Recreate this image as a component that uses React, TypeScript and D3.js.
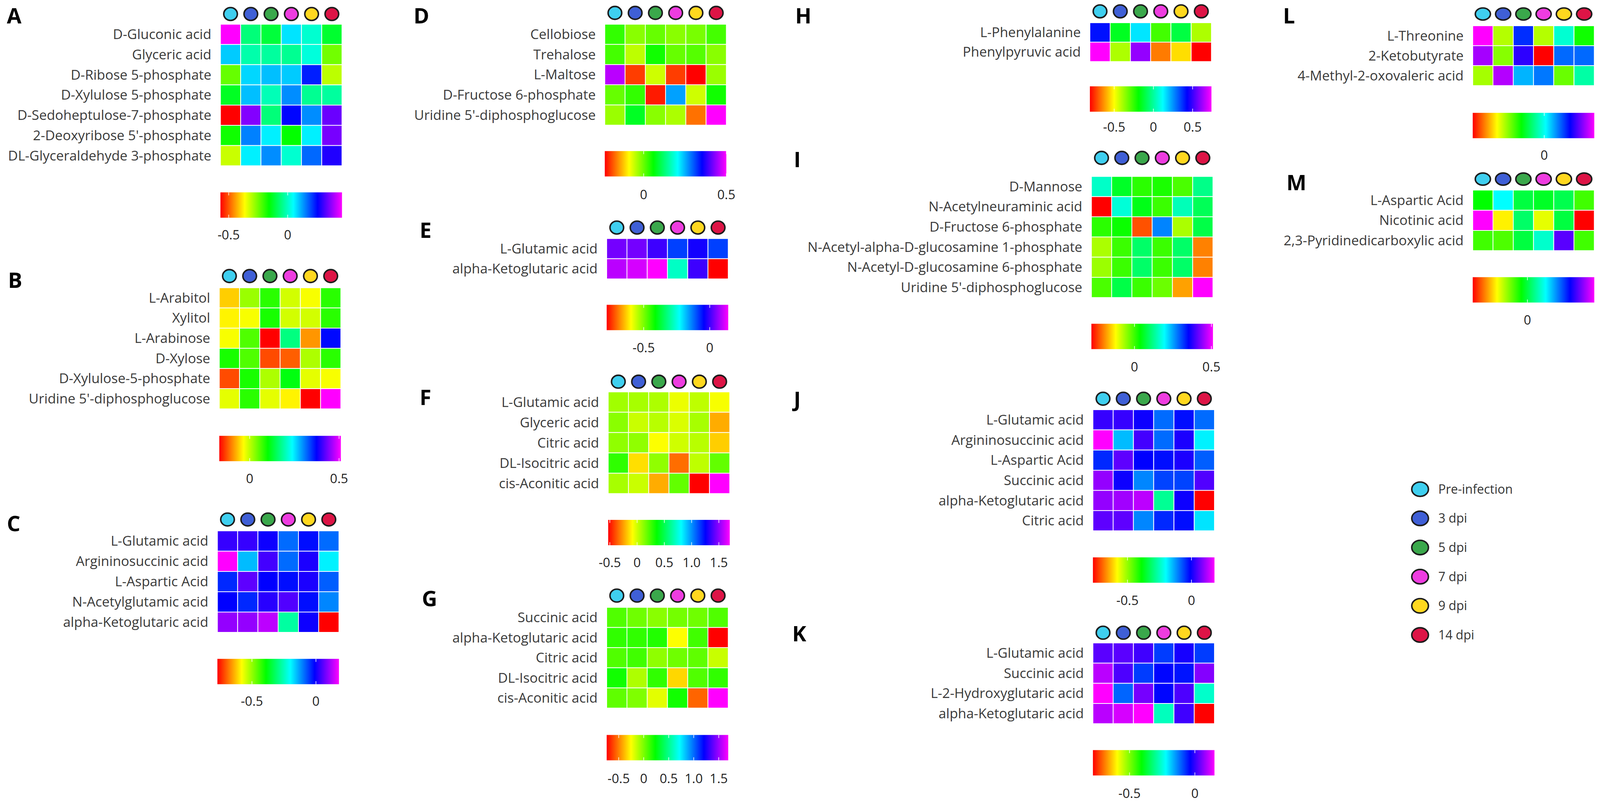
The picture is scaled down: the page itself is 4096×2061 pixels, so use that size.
import React from "react";
import * as d3 from "d3";

// sampling groups (columns of every heatmap)
const groups = ["Pre-infection", "3 dpi", "5 dpi", "7 dpi", "9 dpi", "14 dpi"];
const groupColors = ["#3fcfef", "#3f5fd6", "#3aa84b", "#ee3ce0", "#ffd81f", "#dd1446"];

// A
const rowsA = ["D-Gluconic acid", "Glyceric acid", "D-Ribose 5-phosphate", "D-Xylulose 5-phosphate", "D-Sedoheptulose-7-phosphate", "2-Deoxyribose 5'-phosphate", "DL-Glyceraldehyde 3-phosphate"];
const valuesA = [
  [0.46, -0.06, -0.11, 0.07, 0.01, -0.12],
  [0.09, -0.02, -0.03, -0.04, 0.02, -0.25],
  [-0.24, 0.08, 0.1, 0.09, 0.23, -0.31],
  [-0.13, 0.1, -0.01, 0.14, -0.04, -0.03],
  [-0.57, 0.36, -0.06, 0.25, 0.14, 0.34],
  [-0.17, 0.15, 0.06, -0.16, 0.06, 0.35],
  [-0.32, 0.06, 0.14, 0.01, 0.17, 0.28],
];
const domainA = [-0.57, 0.46];
const ticksA = [-0.5, 0];

// B
const rowsB = ["L-Arabitol", "Xylitol", "L-Arabinose", "D-Xylose", "D-Xylulose-5-phosphate", "Uridine 5'-diphosphoglucose"];
const valuesB = [
  [-0.06, 0.02, 0.08, -0.01, -0.03, 0.08],
  [-0.04, -0.03, 0.09, -0.01, -0.01, 0.08],
  [-0.03, 0.06, -0.17, 0.17, -0.09, 0.37],
  [0.09, 0.06, -0.13, -0.12, 0.01, 0.08],
  [-0.13, 0.09, 0.01, 0.11, -0.02, -0.03],
  [-0.02, 0.08, -0.02, -0.04, -0.17, 0.51],
];
const domainB = [-0.17, 0.51];
const ticksB = [0, 0.5];

// C
const rowsC = ["L-Glutamic acid", "Argininosuccinic acid", "L-Aspartic Acid", "N-Acetylglutamic acid", "alpha-Ketoglutaric acid"];
const valuesC = [
  [0.03, 0.03, 0.0, -0.09, -0.02, -0.09],
  [0.18, -0.15, 0.04, -0.09, 0.01, -0.19],
  [-0.04, 0.06, -0.01, -0.02, 0.01, -0.08],
  [-0.01, -0.04, 0.02, 0.05, -0.02, -0.11],
  [0.1, 0.1, 0.13, -0.27, 0.0, -0.77],
];
const domainC = [-0.77, 0.18];
const ticksC = [-0.5, 0];

// D
const rowsD = ["Cellobiose", "Trehalose", "L-Maltose", "D-Fructose 6-phosphate", "Uridine 5'-diphosphoglucose"];
const valuesD = [
  [0.03, -0.02, 0.0, -0.02, -0.01, 0.02],
  [0.02, -0.05, 0.05, 0.0, 0.01, -0.02],
  [0.46, -0.2, -0.06, -0.2, -0.24, -0.03],
  [0.0, 0.03, -0.22, 0.26, -0.06, 0.05],
  [-0.03, 0.08, -0.02, -0.04, -0.17, 0.5],
];
const domainD = [-0.235, 0.5];
const ticksD = [0, 0.5];

// E
const rowsE = ["L-Glutamic acid", "alpha-Ketoglutaric acid"];
const valuesE = [
  [0.04, 0.04, 0.0, -0.09, -0.03, -0.09],
  [0.09, 0.11, 0.14, -0.27, 0.0, -0.78],
];
const domainE = [-0.78, 0.14];
const ticksE = [-0.5, 0];

// F
const rowsF = ["L-Glutamic acid", "Glyceric acid", "Citric acid", "DL-Isocitric acid", "cis-Aconitic acid"];
const valuesF = [
  [0.08, 0.07, 0.06, -0.05, 0.03, -0.07],
  [0.12, 0.01, 0.04, -0.02, 0.07, -0.23],
  [0.11, 0.11, -0.08, 0.0, 0.04, -0.17],
  [0.28, -0.14, 0.11, -0.34, 0.03, 0.19],
  [0.07, 0.01, -0.23, 0.19, -0.53, 1.7],
];
const domainF = [-0.53, 1.7];
const ticksF = [-0.5, 0, 0.5, 1, 1.5];

// G
const rowsG = ["Succinic acid", "alpha-Ketoglutaric acid", "Citric acid", "DL-Isocitric acid", "cis-Aconitic acid"];
const valuesG = [
  [0.08, 0.02, -0.03, 0.01, 0.02, 0.08],
  [0.14, 0.14, 0.17, -0.25, 0.11, -0.74],
  [0.08, 0.11, -0.04, 0.02, 0.05, -0.15],
  [0.2, -0.1, 0.14, -0.33, 0.08, 0.14],
  [0.05, -0.01, -0.2, 0.2, -0.55, 1.69],
];
const domainG = [-0.74, 1.69];
const ticksG = [-0.5, 0, 0.5, 1, 1.5];

// H
const rowsH = ["L-Phenylalanine", "Phenylpyruvic acid"];
const valuesH = [
  [0.41, -0.15, 0.15, -0.27, -0.11, -0.4],
  [0.74, -0.4, 0.61, -0.66, -0.54, -0.81],
];
const domainH = [-0.81, 0.74];
const ticksH = [-0.5, 0, 0.5];

// I
const rowsI = ["D-Mannose", "N-Acetylneuraminic acid", "D-Fructose 6-phosphate", "N-Acetyl-alpha-D-glucosamine 1-phosphate", "N-Acetyl-D-glucosamine 6-phosphate", "Uridine 5'-diphosphoglucose"];
const valuesI = [
  [0.16, 0.06, 0.01, 0.02, -0.01, 0.12],
  [-0.28, 0.17, 0.05, 0.0, 0.15, 0.09],
  [0.01, 0.03, -0.23, 0.27, -0.07, 0.08],
  [-0.07, 0.0, 0.1, 0.0, 0.1, -0.2],
  [-0.06, 0.0, 0.1, 0.0, 0.1, -0.2],
  [-0.01, 0.08, 0.0, -0.03, -0.18, 0.51],
];
const domainI = [-0.28, 0.51];
const ticksI = [0, 0.5];

// J
const rowsJ = ["L-Glutamic acid", "Argininosuccinic acid", "L-Aspartic Acid", "Succinic acid", "alpha-Ketoglutaric acid", "Citric acid"];
const valuesJ = [
  [0.03, 0.03, 0.0, -0.09, -0.02, -0.09],
  [0.18, -0.15, 0.04, -0.09, 0.01, -0.19],
  [-0.04, 0.06, -0.01, -0.02, 0.01, -0.08],
  [0.1, 0.0, -0.11, -0.06, -0.06, 0.05],
  [0.1, 0.11, 0.13, -0.28, 0.0, -0.77],
  [0.06, 0.06, -0.11, -0.04, -0.02, -0.18],
];
const domainJ = [-0.77, 0.18];
const ticksJ = [-0.5, 0];

// K
const rowsK = ["L-Glutamic acid", "Succinic acid", "L-2-Hydroxyglutaric acid", "alpha-Ketoglutaric acid"];
const valuesK = [
  [0.03, 0.03, 0.01, -0.08, -0.02, -0.08],
  [0.1, 0.02, -0.08, -0.04, -0.05, 0.06],
  [0.15, -0.11, 0.05, -0.04, 0.02, -0.26],
  [0.1, 0.12, 0.15, -0.27, 0.01, -0.78],
];
const domainK = [-0.78, 0.15];
const ticksK = [-0.5, 0];

// L
const rowsL = ["L-Threonine", "2-Ketobutyrate", "4-Methyl-2-oxovaleric acid"];
const valuesL = [
  [0.35, -0.28, 0.15, -0.28, -0.02, -0.17],
  [0.29, -0.25, 0.21, -0.5, 0.11, 0.11],
  [-0.27, 0.3, 0.06, 0.1, -0.23, -0.05],
];
const domainL = [-0.5, 0.35];
const ticksL = [0];

// M
const rowsM = ["L-Aspartic Acid", "Nicotinic acid", "2,3-Pyridinedicarboxylic acid"];
const valuesM = [
  [-0.05, 0.15, 0.0, -0.02, 0.01, -0.1],
  [0.55, -0.26, 0.03, -0.23, 0.0, -0.45],
  [-0.1, -0.11, 0.0, 0.11, 0.42, -0.1],
];
const domainM = [-0.45, 0.55];
const ticksM = [0];

// layout, in reference pixels
const panels = [
  { id: "A", rows: rowsA, values: valuesA, domain: domainA, ticks: ticksA, lx: 18, ly: 62, cy: 37, hx: 582, hy: 64, ch: 53.4, cb: 508, ty: 620 },
  { id: "B", rows: rowsB, values: valuesB, domain: domainB, ticks: ticksB, lx: 21, ly: 760, cy: 729, hx: 579, hy: 760, ch: 53.3, cb: 1151, ty: 1264 },
  { id: "C", rows: rowsC, values: valuesC, domain: domainC, ticks: ticksC, lx: 18, ly: 1403, cy: 1372, hx: 574, hy: 1402, ch: 53.6, cb: 1740, ty: 1852 },
  { id: "D", rows: rowsD, values: valuesD, domain: domainD, ticks: ticksD, lx: 1092, ly: 62, cy: 34, hx: 1597, hy: 64, ch: 53.3, cb: 399, ty: 514 },
  { id: "E", rows: rowsE, values: valuesE, domain: domainE, ticks: ticksE, lx: 1108, ly: 628, cy: 601, hx: 1602, hy: 630, ch: 53.3, cb: 805, ty: 919 },
  { id: "F", rows: rowsF, values: valuesF, domain: domainF, ticks: ticksF, lx: 1108, ly: 1070, cy: 1008, hx: 1606, hy: 1035, ch: 53.7, cb: 1373, ty: 1486 },
  { id: "G", rows: rowsG, values: valuesG, domain: domainG, ticks: ticksG, lx: 1114, ly: 1601, cy: 1573, hx: 1602, hy: 1604, ch: 53.2, cb: 1941, ty: 2056 },
  { id: "H", rows: rowsH, values: valuesH, domain: domainH, ticks: ticksH, lx: 2100, ly: 62, cy: 30, hx: 2878, hy: 60, ch: 51.3, cb: 228, ty: 336 },
  { id: "I", rows: rowsI, values: valuesI, domain: domainI, ticks: ticksI, lx: 2096, ly: 442, cy: 417, hx: 2882, hy: 466, ch: 53.3, cb: 855, ty: 969 },
  { id: "J", rows: rowsJ, values: valuesJ, domain: domainJ, ticks: ticksJ, lx: 2096, ly: 1075, cy: 1053, hx: 2886, hy: 1082, ch: 53.3, cb: 1472, ty: 1586 },
  { id: "K", rows: rowsK, values: valuesK, domain: domainK, ticks: ticksK, lx: 2092, ly: 1694, cy: 1671, hx: 2886, hy: 1698, ch: 53.3, cb: 1981, ty: 2096 },
  { id: "L", rows: rowsL, values: valuesL, domain: domainL, ticks: ticksL, lx: 3388, ly: 62, cy: 37, hx: 3889, hy: 68, ch: 52.7, cb: 298, ty: 410 },
  { id: "M", rows: rowsM, values: valuesM, domain: domainM, ticks: ticksM, lx: 3397, ly: 502, cy: 473, hx: 3889, hy: 502, ch: 53.3, cb: 732, ty: 845 },
];

const W = 4225;
const H = 2126;
const HEAT_W = 321;
const CB_H = 67;
const FONT = "'Open Sans', 'Noto Sans', sans-serif";

// rainbow: red -> yellow -> green -> cyan -> blue -> magenta
const rainbow = (t: number) => d3.hsl(300 * Math.max(0, Math.min(1, t)), 1, 0.5).formatHex();
const fmt = (v: number) => (v === 0 ? "0" : v.toFixed(1));

const Panel = ({ p }: { p: any }) => {
  const x = d3.scaleBand().domain(groups).range([p.hx, p.hx + HEAT_W]);
  const y = d3
    .scaleBand()
    .domain(p.rows)
    .range([p.hy, p.hy + p.ch * p.rows.length]);
  const color = d3.scaleSequential(rainbow).domain(p.domain);
  const xc = d3.scaleLinear().domain(p.domain).range([p.hx, p.hx + HEAT_W]);
  const wide = p.id === "L" || p.id === "M";
  const gradId = `grad-${p.id}`;
  const stops = d3.range(0, 1.0001, 0.05);

  return (
    <g>
      <text x={p.lx} y={p.ly} fontFamily={FONT} fontWeight={700} fontSize={56} fill="#000">
        {p.id}
      </text>
      {groups.map((g, i) => (
        <ellipse
          key={g}
          cx={x(g)! + x.bandwidth() / 2}
          cy={p.cy}
          rx={wide ? 20 : 18}
          ry={wide ? 16 : 17}
          fill={groupColors[i]}
          stroke="#1c1c1c"
          strokeWidth={4}
        />
      ))}
      {p.rows.map((r: string, ri: number) => (
        <g key={r}>
          <text
            x={p.hx - 24}
            y={y(r)! + y.bandwidth() / 2}
            dy="0.35em"
            textAnchor="end"
            fontFamily={FONT}
            fontSize={36}
            fill="#3a3a3a"
          >
            {r}
          </text>
          {groups.map((g, gi) => (
            <rect
              key={g}
              x={x(g)!}
              y={y(r)!}
              width={x.bandwidth()}
              height={y.bandwidth()}
              fill={color(p.values[ri][gi])}
              stroke="#ffffff"
              strokeWidth={2}
            />
          ))}
        </g>
      ))}
      <defs>
        <linearGradient id={gradId} x1="0" x2="1" y1="0" y2="0">
          {stops.map((t) => (
            <stop key={t} offset={t} stopColor={rainbow(t)} />
          ))}
        </linearGradient>
      </defs>
      <rect x={p.hx} y={p.cb} width={HEAT_W} height={CB_H} fill={`url(#${gradId})`} />
      {p.ticks.map((t: number) => (
        <g key={t}>
          <line x1={xc(t)} x2={xc(t)} y1={p.cb} y2={p.cb + 8} stroke="#fff" strokeWidth={2} opacity={0.8} />
          <line x1={xc(t)} x2={xc(t)} y1={p.cb + CB_H - 8} y2={p.cb + CB_H} stroke="#fff" strokeWidth={2} opacity={0.8} />
          <text x={xc(t)} y={p.ty} dy="0.35em" textAnchor="middle" fontFamily={FONT} fontSize={34} fill="#222">
            {fmt(t)}
          </text>
        </g>
      ))}
    </g>
  );
};

const App: React.FC = () => {
  const legendY = d3.scalePoint().domain(groups).range([1292, 1677]);
  return (
    <svg
      width={4096}
      height={2061}
      viewBox={`0 0 ${W} ${H}`}
      style={{ position: "fixed", left: 0, top: 0, background: "#fff" }}
    >
      <rect x={0} y={0} width={W} height={H} fill="#fff" />
      {panels.map((p) => (
        <Panel key={p.id} p={p} />
      ))}
      {groups.map((g, i) => (
        <g key={g}>
          <ellipse cx={3750} cy={legendY(g)} rx={22} ry={19} fill={groupColors[i]} stroke="#1c1c1c" strokeWidth={4} />
          <text x={3798} y={legendY(g)} dy="0.35em" fontFamily={FONT} fontSize={33} fill="#333">
            {g}
          </text>
        </g>
      ))}
    </svg>
  );
};

export default App;
